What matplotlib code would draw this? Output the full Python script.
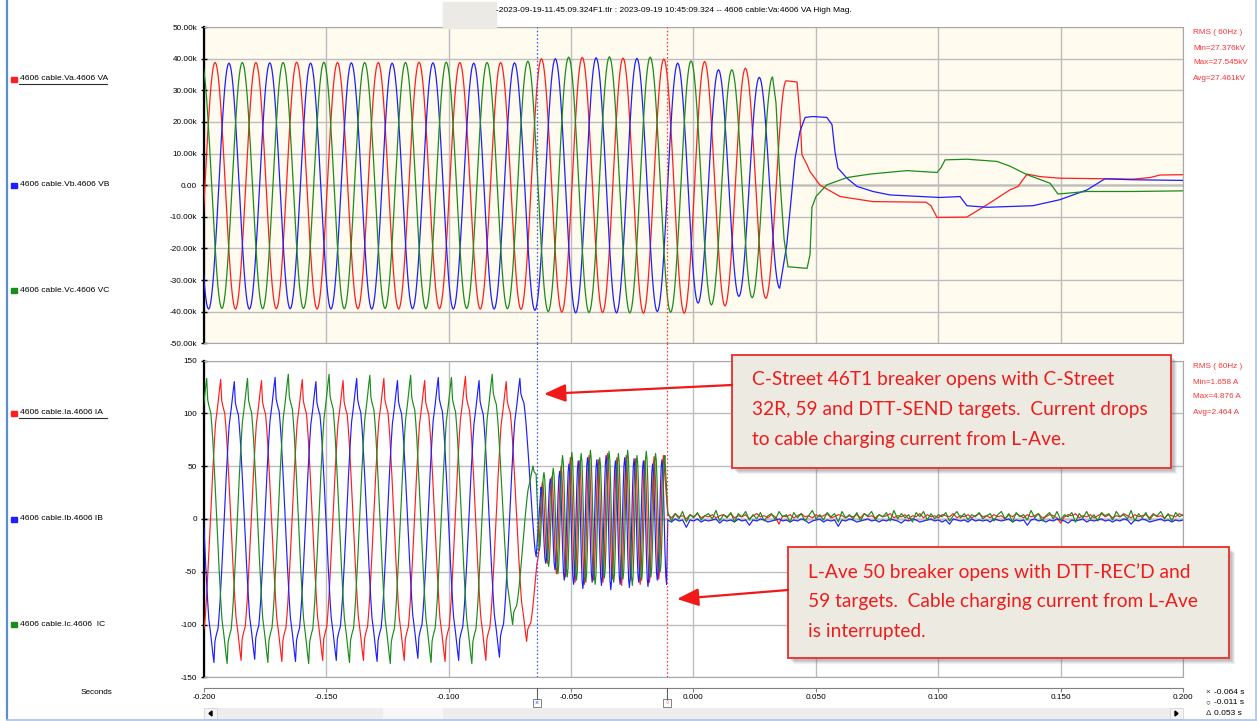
import numpy as np
import matplotlib.pyplot as plt
from matplotlib.patches import Rectangle, FancyArrowPatch, Polygon
from matplotlib.lines import Line2D
from matplotlib.ticker import FuncFormatter, MultipleLocator

plt.rcParams['font.family'] = ['Liberation Sans', 'DejaVu Sans']

W, H = 1257, 721

# record window and cursors (s)
t_lo, t_hi = -0.200, 0.200
cur_x, cur_o = -0.064, -0.011
half_60 = 1 / 120        # half cycle at 60 Hz
half_osc = 0.0019        # half cycle of the ringing between the two openings

# ---- voltages (kV): extremes every half cycle, then the collapse ----
va_t0 = -0.2038
va_ext = [-39.0, 38.8, -39.2, 38.8, -39.1, 38.9, -39.2, 38.8, -39.1, 38.8,
          -39.2, 38.9, -39.1, 38.8, -39.2, 38.8, -39.3, 40.0, -40.2, 40.4,
          -40.3, 40.2, -40.5, 39.9, -40.5, 39.1, -38.2, 37.0, -35.8, 33.0]
va_tail_t = [0.0423, 0.0435, 0.0443, 0.0464, 0.0476, 0.0517, 0.0599, 0.0733, 0.0950,
             0.0970, 0.0995, 0.1117, 0.1199, 0.1293, 0.1326, 0.1363, 0.1416, 0.1497,
             0.1796, 0.1865, 0.1906, 0.2000]
va_tail_v = [32.6, 22.0, 9.6, 6.4, 4.3, 0.0, -3.6, -5.2, -5.4, -6.5, -10.2, -10.1,
             -6.2, -1.5, -0.4, 3.5, 2.7, 2.2, 1.9, 2.4, 3.2, 3.3]

vb_t0 = -0.20646
vb_ext = [38.6, -39.2, 38.6, -39.2, 38.7, -39.1, 38.6, -39.2, 38.7, -39.2,
          38.6, -39.1, 38.7, -39.2, 38.6, -39.2, 38.7, -39.6, 40.0, -40.4,
          40.3, -40.4, 40.1, -40.0, 38.6, -37.3, 36.5, -35.2, 34.1, -32.6]
vb_tail_t = [0.0381, 0.0415, 0.0435, 0.0456, 0.0488, 0.0545, 0.0566, 0.0578, 0.0590,
             0.0627, 0.0668, 0.0733, 0.0803, 0.1007, 0.1089, 0.1117, 0.1199, 0.1387,
             0.1497, 0.1608, 0.1681, 0.1796, 0.2000]
vb_tail_v = [-18.9, 8.5, 17.0, 21.4, 21.7, 21.4, 19.1, 10.6, 5.4, 2.2, -0.4, -2.0,
             -3.1, -3.9, -3.6, -6.5, -7.0, -6.5, -4.6, -1.5, 2.0, 1.7, 1.5]

vc_t0 = -0.20102
vc_ext = [38.8, -39.0, 38.8, -39.1, 38.8, -39.0, 38.9, -39.1, 38.8, -39.0,
          38.8, -39.1, 38.9, -39.0, 38.8, -39.1, 39.2, -40.0, 40.5, -40.3,
          40.6, -40.4, 40.5, -40.2, 39.3, -37.9, 36.5, -35.6, 34.2]
vc_tail_t = [0.0337, 0.0353, 0.0370, 0.0386, 0.0464, 0.0476, 0.0484, 0.0501, 0.0545,
             0.0627, 0.0721, 0.0872, 0.0995, 0.1011, 0.1028, 0.1117, 0.1240, 0.1293,
             0.1363, 0.1457, 0.1489, 0.1608, 0.1796, 0.2000]
vc_tail_v = [26.0, 2.0, -17.0, -25.8, -26.3, -22.0, -7.0, -3.5, 0.1, 2.4, 3.5, 4.6,
             4.0, 5.5, 8.0, 8.2, 7.5, 6.0, 3.3, 0.6, -2.8, -2.0, -2.0, -1.8]

# ---- currents (A) ----
# one half cycle of the load current, peak -> valley, normalised
cur_s = [0.0, 0.05, 0.12, 0.20, 0.28, 0.38, 0.50, 0.62, 0.74, 0.86, 0.94, 1.0]
cur_f = [1.0, 0.85, 0.80, 0.76, 0.62, 0.35, 0.0, -0.38, -0.68, -0.82, -0.93, -1.0]

ia_t0 = -0.20151
ia_ext = [-134, 132, -134, 131, -135, 132, -134, 131, -134, 133, -134, 131,
          -135, 135, -134, 130, -116, 30]
ib_t0 = -0.20428
ib_ext = [130, -136, 130, -133, 134, -135, 130, -134, 133, -135, 131, -132,
          134, -134, 131, -131, 133, -60]
ic_t0 = -0.20723
ic_ext = [-133, 133, -137, 133, -136, 137, -137, 137, -136, 136, -137, 136,
          -136, 134, -137, 137, -100, 50, -20]

# ringing on cable charging current, C-Street open -> L-Ave open
ia_osc_t0, ib_osc_t0, ic_osc_t0 = -0.0636, -0.0623, -0.0630
ia_osc = [-38, 35, -42, 40, -52, 50, -55, 58, -60, 55, -62, 60, -58, 56,
          -60, 62, -57, 58, -63, 60, -58, 57, -62, 55, -60, 59, -57, 60]
ib_osc = [30, -42, 38, -48, 45, -58, 52, -62, 55, -66, 58, -60, 56, -63,
          60, -67, 55, -62, 58, -65, 57, -60, 55, -64, 52, -58, 56, -62]
ic_osc = [-30, 44, -45, 48, -52, 60, -55, 63, -58, 62, -60, 65, -62, 58,
          -56, 64, -60, 62, -57, 65, -63, 60, -58, 64, -55, 62, -50, 60]

# after L-Ave opens: residual noise
post_t0 = -0.0105
ia_post = [4, 1, 5, 2, 3, 0, 4, 2, 5, 1, 3, 2, 4, 1, 3, 4, 2, 5, 1, 3,
           2, 4, 0, 3, 5, 2, 3, 1, 4, 2, -5, 3, 2, 4, 1, 3, 5, 2, 3, 1,
           4, 2, 3, 5, 1, 2, 4, 3, 1, 3, 2, 4, 1, 5, 2, 3, 1, 4, 2, 3,
           5, 1, 3, 2, 4, 0, 3, 2, 5, 1, 4, 2, 3, 1, 4, 3, 2, 5, 1, 3,
           2, 4, 1, 3, 5, 2, 3, 1, 4, 2, 3, 0, 4, 2, 5, 3, 1, 4, 2, 3,
           5, 1, 2, 4, 3, 1, -4, 2, 4, 3, 5, 1, 3, 2, 4, 1, 3, 5, 2, 4,
           1, 3, 2, 5, 3, 1, 4, 2, 3, 4, 1, 5, 2, 3, 1, 4, 3, 2, 5, 3]
ib_post = [-1, -3, 0, -2, -1, -8, -1, -2, 0, -3, -1, -2, -1, 0, -4, -1, -2, -1, -3, 0,
           -2, -1, -6, -1, -2, 0, -1, -3, -2, -1, 0, -2, -1, -3, -1, -2, 0, -1, -4, -2,
           -1, 0, -3, -1, -2, -1, -7, -1, -2, 0, -1, -3, -2, -1, 0, -2, -1, -3, -1, -2,
           0, -1, -2, -4, -1, -2, 0, -1, -3, -2, -1, 0, -2, -1, -3, -1, -5, 0, -1, -2,
           -1, -3, 0, -2, -1, -2, -1, -3, 0, -1, -2, -1, 0, -3, -1, -2, -1, -6, -1, 0,
           -2, -1, -3, -1, -2, 0, -1, -2, -4, -1, -2, -1, 0, -3, -1, -2, -1, 0, -2, -1,
           -3, -1, -2, 0, -1, -5, -1, -2, 0, -1, -3, -2, -1, 0, -2, -1, -3, -1, -2, -1]
ic_post = [6, -2, 5, 0, 7, -3, 4, 1, 6, -1, 3, 5, 0, 8, -2, 4, 1, 6, -3, 5,
           2, 7, -1, 4, 0, 6, -2, 3, 5, -1, 7, 2, 4, -3, 6, 1, 5, -2, 3, 8,
           0, 4, -1, 6, 2, 5, -3, 7, 1, 4, 0, 6, -2, 5, 3, 7, -1, 4, 2, 6,
           -2, 8, 0, 5, 1, 4, -3, 6, 2, 7, -1, 5, 0, 4, 2, 6, -2, 3, 7, 1,
           5, -1, 4, 2, 6, 0, 3, 5, -2, 4, 7, 0, 5, -3, 6, 2, 4, -1, 8, 1,
           5, -2, 3, 6, 0, 7, -1, 4, 2, 6, -3, 5, 1, 7, 0, 4, -2, 6, 3, 5,
           -1, 7, 2, 4, 0, 8, -2, 5, 1, 6, -1, 4, 3, 7, 0, 5, -2, 6, 2, 4]

v_names = ['4606 cable.Va.4606 VA', '4606 cable.Vb.4606 VB', '4606 cable.Vc.4606 VC']
i_names = ['4606 cable.Ia.4606 IA', '4606 cable.Ib.4606 IB', '4606 cable.Ic.4606  IC']
v_rms = ['RMS ( 60Hz )', 'Min=27.376kV', 'Max=27.545kV', 'Avg=27.461kV']
i_rms = ['RMS ( 60Hz )', 'Min=1.658 A', 'Max=4.876 A', 'Avg=2.464 A']
title = ('-2023-09-19-11.45.09.324F1.tlr : 2023-09-19 10:45:09.324 -- '
         '4606 cable:Va:4606 VA High Mag.')
note1 = ['C-Street 46T1 breaker opens with C-Street',
         '32R, 59 and DTT-SEND targets.  Current drops',
         'to cable charging current from L-Ave.']
note2 = ['L-Ave 50 breaker opens with DTT-REC\u2019D and',
         '59 targets.  Cable charging current from L-Ave',
         'is interrupted.']

RED, BLUE, GREEN = '#FF1E1E', '#1E1EFF', '#1A8C1A'
colors = [RED, BLUE, GREEN]


def wave(t0, half, ext, shape_s=None, shape_f=None, n=20):
    ts, vs = [], []
    s = np.linspace(0, 1, n, endpoint=False)
    f = np.cos(np.pi * s) if shape_s is None else np.interp(s, shape_s, shape_f)
    for k in range(len(ext) - 1):
        a, b = ext[k], ext[k + 1]
        ts.append(t0 + (k + s) * half)
        vs.append((a + b) / 2 + (a - b) / 2 * f)
    ts.append([t0 + (len(ext) - 1) * half])
    vs.append([ext[-1]])
    return np.concatenate(ts), np.concatenate(vs)


def voltage(t0, ext, tail_t, tail_v):
    t, v = wave(t0, half_60, ext)
    return np.r_[t, tail_t], np.r_[v, tail_v]


def current(t0, ext, osc_t0, osc, post):
    t1, v1 = wave(t0, half_60, ext, cur_s, cur_f)
    keep = t1 <= cur_x
    t2, v2 = wave(osc_t0, half_osc, osc, n=6)
    t3 = np.linspace(post_t0, t_hi, len(post))
    return np.r_[t1[keep], t2, t3], np.r_[v1[keep], v2, post]


def px(x, y):
    return x / W, 1 - y / H


def box(l, t, r, b):
    return [l / W, 1 - b / H, (r - l) / W, (b - t) / H]


fig = plt.figure(figsize=(W / 100, H / 100), dpi=100)
fig.patch.set_facecolor('white')

ax_v = fig.add_axes(box(204, 27, 1183, 343.3))
ax_i = fig.add_axes(box(204, 360.5, 1183, 677.3))

volts = [voltage(va_t0, va_ext, va_tail_t, va_tail_v),
         voltage(vb_t0, vb_ext, vb_tail_t, vb_tail_v),
         voltage(vc_t0, vc_ext, vc_tail_t, vc_tail_v)]
amps = [current(ia_t0, ia_ext, ia_osc_t0, ia_osc, ia_post),
        current(ib_t0, ib_ext, ib_osc_t0, ib_osc, ib_post),
        current(ic_t0, ic_ext, ic_osc_t0, ic_osc, ic_post)]

for (t, v), c in zip(volts, colors):
    ax_v.plot(t, v, color=c, lw=0.9, zorder=3)
for (t, v), c in zip(amps, colors):
    ax_i.plot(t, v, color=c, lw=0.85, zorder=3)

for ax, lim, step in [(ax_v, 50, 10), (ax_i, 150, 50)]:
    ax.set_xlim(t_lo, t_hi)
    ax.set_ylim(-lim, lim)
    ax.set_xticks(np.arange(t_lo, t_hi + 1e-9, 0.05))
    ax.yaxis.set_major_locator(MultipleLocator(step))
    ax.grid(True, color='#BDBDBD', lw=1.0, zorder=0)
    ax.axhline(0, color='#3A3A3A', lw=1.0, zorder=1)
    ax.tick_params(axis='x', length=0, labelbottom=False)
    ax.tick_params(axis='y', direction='inout', length=5, width=1,
                   labelsize=5.9, pad=2.5)
    for side in ['top', 'right', 'bottom']:
        ax.spines[side].set_color('#A8A8A8')
    ax.spines['left'].set_color('black')
    ax.spines['left'].set_linewidth(1.6)
    ax.axvline(cur_x, color='#3050FF', lw=0.9, ls=(0, (1.2, 1.8)), zorder=4)
    ax.axvline(cur_o, color='#FF3030', lw=0.9, ls=(0, (1.2, 1.8)), zorder=4)

ax_v.set_facecolor('#FFFBEF')
ax_i.set_facecolor('white')
ax_v.yaxis.set_major_formatter(
    FuncFormatter(lambda v, p: '0.00' if abs(v) < 1e-9 else f'{v:.2f}k'))
ax_i.yaxis.set_major_formatter(FuncFormatter(lambda v, p: f'{v:.0f}'))

# time axis under the panels
ax_t = fig.add_axes(box(204, 687.5, 1183, 688))
ax_t.set_xlim(t_lo, t_hi)
ax_t.patch.set_alpha(0)
ax_t.set_yticks([])
for side in ['left', 'right', 'top']:
    ax_t.spines[side].set_visible(False)
ax_t.spines['bottom'].set_color('#808080')
tt = np.arange(t_lo, t_hi + 1e-9, 0.05)
ax_t.set_xticks(tt)
ax_t.set_xticklabels([f'{round(v, 3) + 0.0:.3f}' for v in tt])
ax_t.tick_params(axis='x', direction='out', length=3, color='#808080',
                 labelsize=5.9, pad=1.5)
fig.text(*px(96, 693), 'Seconds', fontsize=5.9, ha='center', va='center')

# cursor lines through the gap
for tc, col in [(cur_x, '#3050FF'), (cur_o, '#FF3030')]:
    xf = (204 + (tc - t_lo) / (t_hi - t_lo) * 979) / W
    fig.add_artist(Line2D([xf, xf], [1 - 343 / H, 1 - 361 / H], color=col, lw=0.9,
                          ls=(0, (1.2, 1.8))))
    fig.add_artist(Line2D([xf, xf], [1 - 688 / H, 1 - 699 / H], color='#606060', lw=0.8))
    xp = xf * W
    fig.add_artist(Rectangle(px(xp - 4, 707), 8 / W, 8 / H, facecolor='white',
                             edgecolor='#707070', lw=0.6))
fig.text(*px(537, 703), '\u00d7', fontsize=5, ha='center', va='center', color='#3050FF')
fig.text(*px(667, 703), '\u25cb', fontsize=4, ha='center', va='center', color='#FF3030')

# channel labels
for names, ys in [(v_names, [79, 185, 290]), (i_names, [413, 519, 624])]:
    for k, (nm, y, c) in enumerate(zip(names, ys, colors)):
        fig.add_artist(Rectangle(px(11, y + 2.5), 6 / W, 5 / H, color=c))
        fig.text(*px(20, y), nm, fontsize=6.1, va='center')
        if k == 0:
            fig.add_artist(Line2D([19 / W, 107 / W], [1 - (y + 5) / H] * 2,
                                  color='#303030', lw=0.8))

for lines, y0 in [(v_rms, 33), (i_rms, 367)]:
    for k, s in enumerate(lines):
        fig.text(*px(1193, y0 + 15 * k), s, fontsize=5.9, va='center', color='#FF3333')

# header
fig.add_artist(Rectangle(px(443, 28), 53 / W, 26 / H, color='#ECEAE4'))
fig.text(*px(496, 11), title, fontsize=6.0, va='center')

# cursor readout
for k, (sym, s) in enumerate([('\u00d7', '-0.064 s'), ('\u25cb', '-0.011 s'),
                              ('\u0394', '0.053 s')]):
    y = 692.5 + 10.5 * k
    fig.text(*px(1208, y), sym, fontsize=5.8, ha='center', va='center', color='#303030')
    fig.text(*px(1214, y), s, fontsize=6.0, va='center')

# scrollbar
fig.add_artist(Rectangle(px(204, 719), 979 / W, 11 / H, facecolor='#EDEDED',
                         edgecolor='none'))
fig.add_artist(Rectangle(px(383, 719), 60 / W, 11 / H, facecolor='#F7F7F7',
                         edgecolor='none'))
for l in [204, 1170]:
    fig.add_artist(Rectangle(px(l, 719), 13 / W, 11 / H, facecolor='#F4F4F4',
                             edgecolor='#D0D0D0', lw=0.5))
fig.add_artist(Polygon([px(209, 713.5), px(212, 711), px(212, 716)], closed=True,
                       color='black'))
fig.add_artist(Polygon([px(1178, 713.5), px(1175, 711), px(1175, 716)], closed=True,
                       color='black'))

# window frame
fig.add_artist(Line2D([7 / W, 7 / W], [1, 1 - 719 / H], color='#5B8ED0', lw=1.6))
fig.add_artist(Line2D([7 / W, 1], [1 - 719.5 / H] * 2, color='#A8C4E6', lw=1.2))
fig.add_artist(Line2D([1255.5 / W] * 2, [1, 1 - 719 / H], color='#A8C4E6', lw=1.2))

# annotation callouts
NOTE_RED = '#EE1C1C'


def callout(l, t, r, b, lines, tx, ty0, tip, tail):
    for d, a in [(6, 0.10), (5, 0.12), (4, 0.14), (3, 0.16)]:
        fig.add_artist(Rectangle(px(l + d, b + d), (r - l) / W, (b - t) / H,
                                 facecolor='#707070', alpha=a, edgecolor='none', zorder=5))
    fig.add_artist(Rectangle(px(l, b), (r - l) / W, (b - t) / H, facecolor='#EDEAE2',
                             edgecolor='#E83A3A', lw=1.4, zorder=6))
    for k, s in enumerate(lines):
        fig.text(*px(tx, ty0 + 30 * k), s, family=['Lato', 'DejaVu Sans'],
                 fontsize=13.8, color=NOTE_RED, va='center', zorder=7)
    fig.add_artist(FancyArrowPatch(px(*tail), px(*tip), transform=fig.transFigure,
                                   arrowstyle='-|>,head_length=1.1,head_width=0.45',
                                   mutation_scale=12, color='#F01818', lw=1.6,
                                   shrinkA=0, shrinkB=0, zorder=6))


callout(732, 355, 1171, 468, note1, 752, 380, (544, 394), (732, 385))
callout(788, 547, 1229, 658, note2, 808, 572, (677, 599), (788, 590))

fig.savefig('out.png', dpi=100)
